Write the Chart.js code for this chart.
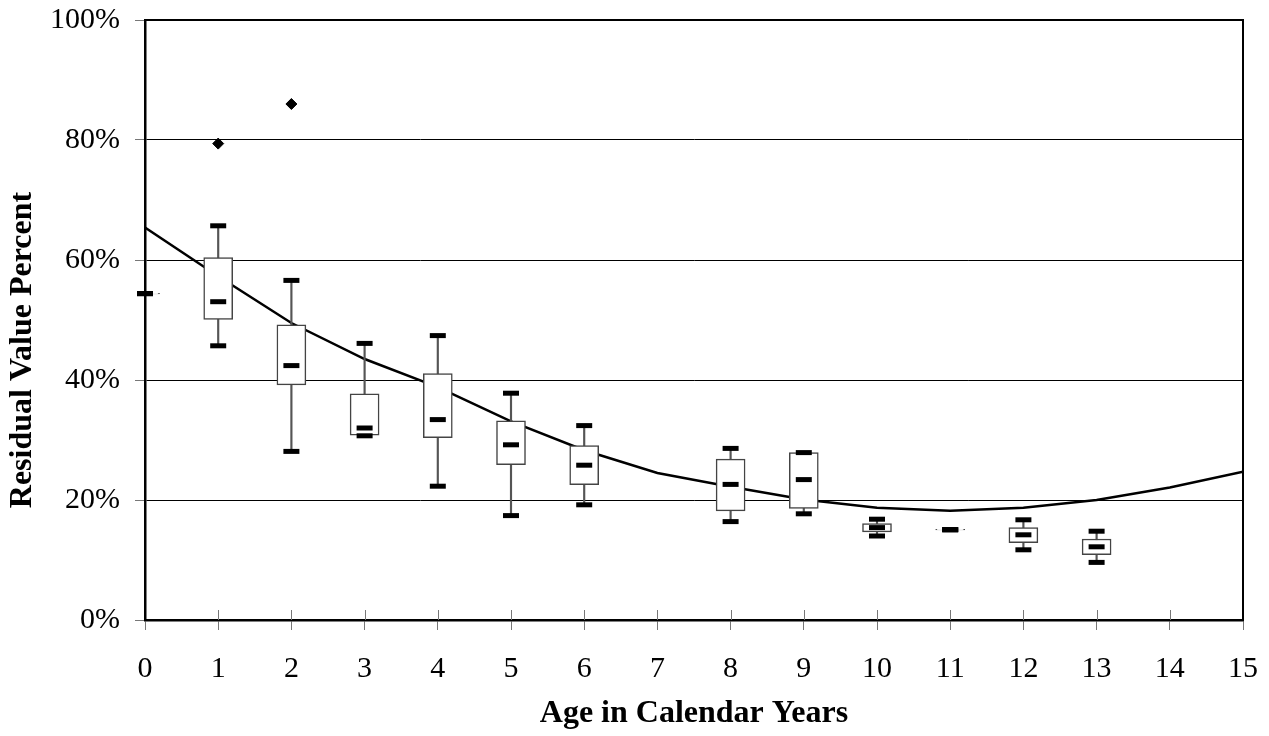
<!DOCTYPE html>
<html>
<head>
<meta charset="utf-8">
<script src="https://cdn.jsdelivr.net/npm/chart.js@4/dist/chart.umd.min.js"></script>
<style>
  html, body { margin: 0; padding: 0; background: #fff; }
  #wrap { width: 1269px; height: 736px; }
</style>
</head>
<body>
<div id="wrap"><canvas id="chart"></canvas></div>
<script>
// box plot summary per age (percent)
const ages = [0, 1, 2, 3, 4, 5, 6, 8, 9, 10, 11, 12, 13];
const minVals = [54.4, 45.7, 28.1, 30.7, 22.3, 17.4, 19.2, 16.4, 17.7, 14.0, 15.05, 11.7, 9.6];
const q1Vals = [54.35, 50.1, 39.2, 30.8, 30.4, 25.9, 22.55, 18.2, 18.6, 14.7, 15.0, 12.9, 10.9];
const medVals = [54.4, 53.05, 42.4, 32.0, 33.4, 29.2, 25.8, 22.6, 23.4, 15.4, 15.05, 14.2, 12.2];
const q3Vals = [54.45, 60.4, 49.2, 37.7, 41.05, 33.2, 29.05, 26.8, 27.9, 16.05, 15.1, 15.4, 13.5];
const maxVals = [54.4, 65.7, 56.6, 46.1, 47.4, 37.8, 32.4, 28.6, 27.9, 16.8, 15.05, 16.7, 14.8];

const outlierAges = [1, 2];
const outlierVals = [79.4, 86.0];

// fitted curve
const fitAges = [0, 1, 2, 3, 4, 5, 6, 7, 8, 9, 10, 11, 12, 13, 14, 15];
const fitVals = [65.4, 57.3, 49.5, 43.5, 38.8, 33.1, 28.3, 24.5, 22.2, 20.1, 18.7, 18.2, 18.7, 20.0, 22.1, 24.7];

const yTitle = 'Residual Value Percent';
const xTitle = 'Age in Calendar Years';

const serif = "'Liberation Serif', 'Times New Roman', serif";

// frame on top/right, inner halves of the x ticks, and the y title
const framePlugin = {
  id: 'frame',
  afterDatasetsDraw(chart) {
    const { ctx, chartArea: a, scales } = chart;
    ctx.save();
    ctx.strokeStyle = '#000';
    ctx.lineWidth = 2;
    ctx.beginPath();
    ctx.moveTo(a.left, a.top);
    ctx.lineTo(a.right, a.top);
    ctx.lineTo(a.right, a.bottom);
    ctx.stroke();
    ctx.strokeStyle = '#777';
    ctx.lineWidth = 1;
    for (let v = 1; v < 15; v++) {
      const x = Math.round(scales.x.getPixelForValue(v)) + 0.5;
      ctx.beginPath();
      ctx.moveTo(x, a.bottom - 10);
      ctx.lineTo(x, a.bottom);
      ctx.stroke();
    }
    ctx.restore();
  },
  afterDraw(chart) {
    const ctx = chart.ctx;
    ctx.save();
    ctx.translate(23, 350);
    ctx.rotate(-Math.PI / 2);
    ctx.fillStyle = '#000';
    ctx.font = 'bold 32px ' + serif;
    ctx.textAlign = 'center';
    ctx.textBaseline = 'middle';
    ctx.fillText(yTitle, 0, 0);
    ctx.restore();
  }
};

new Chart(document.getElementById('chart'), {
  type: 'bar',
  data: {
    datasets: [
      {
        type: 'line',
        data: fitAges.map((a, i) => ({ x: a, y: fitVals[i] })),
        borderColor: '#000',
        borderWidth: 2.5,
        pointRadius: 0,
        tension: 0,
        order: 4
      },
      {
        type: 'bar',
        data: ages.map((a, i) => ({ x: a, y: [minVals[i], maxVals[i]] })),
        backgroundColor: '#555',
        borderWidth: 0,
        barThickness: 1.5,
        grouped: false,
        order: 3
      },
      {
        type: 'bar',
        data: ages.map((a, i) => ({ x: a, y: [q1Vals[i], q3Vals[i]] })),
        backgroundColor: '#fff',
        borderColor: '#444',
        borderWidth: 1.5,
        borderSkipped: false,
        barThickness: 29,
        grouped: false,
        order: 2
      },
      {
        type: 'line',
        showLine: false,
        data: ages.flatMap((a, i) => [
          { x: a, y: minVals[i] },
          { x: a, y: medVals[i] },
          { x: a, y: maxVals[i] }
        ]),
        pointStyle: 'line',
        pointRadius: 8,
        pointBorderWidth: 5,
        pointBorderColor: '#000',
        clip: false,
        order: 1
      },
      {
        type: 'line',
        showLine: false,
        data: outlierAges.map((a, i) => ({ x: a, y: outlierVals[i] })),
        pointStyle: 'rectRot',
        pointRadius: 5.5,
        pointBackgroundColor: '#000',
        pointBorderColor: '#000',
        pointBorderWidth: 1,
        order: 0
      }
    ]
  },
  options: {
    responsive: true,
    maintainAspectRatio: false,
    animation: false,
    layout: { padding: { top: 20, right: 26, left: 0, bottom: 0 } },
    plugins: { legend: { display: false }, tooltip: { enabled: false } },
    scales: {
      x: {
        type: 'linear',
        min: 0,
        max: 15,
        offset: false,
        afterFit: (s) => {
          s.height = 116;
          s.paddingLeft = 0;
          s.paddingRight = 0;
        },
        ticks: { stepSize: 1, autoSkip: false, maxRotation: 0, color: '#000', padding: 21, font: { family: serif, size: 30 } },
        grid: { offset: false, drawOnChartArea: false, tickLength: 10, tickColor: '#777', tickWidth: 1 },
        border: { color: '#000', width: 2.5 },
        title: {
          display: true,
          text: xTitle,
          color: '#000',
          font: { family: serif, size: 32, weight: 'bold' },
          padding: { top: 0, bottom: 3 }
        }
      },
      y: {
        min: 0,
        max: 100,
        afterFit: (s) => {
          s.width = 145;
          s.paddingTop = 0;
          s.paddingBottom = 0;
        },
        ticks: {
          stepSize: 20,
          color: '#000',
          padding: 15,
          font: { family: serif, size: 30 },
          callback: (v) => v + '%'
        },
        grid: { color: '#000', lineWidth: 1, tickLength: 10, tickColor: '#777' },
        border: { color: '#000', width: 2.5 }
      }
    }
  },
  plugins: [framePlugin]
});
</script>
</body>
</html>
